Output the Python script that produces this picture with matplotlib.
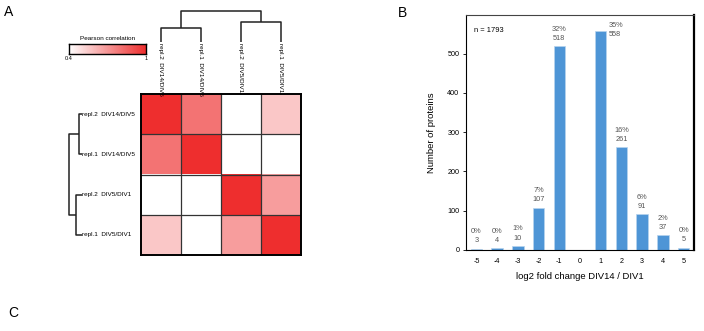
import numpy as np
import matplotlib
matplotlib.use("Agg")
import matplotlib.pyplot as plt
from matplotlib.colors import LinearSegmentedColormap
from matplotlib.transforms import blended_transform_factory

plt.rcParams['font.family'] = ['Liberation Sans', 'DejaVu Sans']
plt.rcParams['axes.unicode_minus'] = False

# ---- data ----
samples = ["repl.2  DIV14/DIV5", "repl.1  DIV14/DIV5",
           "repl.2  DIV5/DIV1", "repl.1  DIV5/DIV1"]
corr = np.array([[1.00, 0.80, 0.40, 0.56],
                 [0.80, 1.00, 0.40, 0.40],
                 [0.40, 0.40, 1.00, 0.68],
                 [0.56, 0.40, 0.68, 1.00]])
# linkage: (left, right, height), new clusters numbered 4, 5, 6
col_links = [(0, 1, 0.25), (2, 3, 0.355), (4, 5, 0.55)]
row_links = [(0, 1, 0.13), (2, 3, 0.25), (4, 5, 0.55)]

fold_change = [-5, -4, -3, -2, -1, 0, 1, 2, 3, 4, 5]
counts = [3, 4, 10, 107, 518, 0, 558, 261, 91, 37, 5]
percents = ["0%", "0%", "1%", "7%", "32%", "", "35%", "16%", "6%", "2%", "0%"]
n_total = 1793

W, H = 704, 331
fig = plt.figure(figsize=(W / 100, H / 100), dpi=100)


def px(x0, y0, x1, y1):
    return [x0 / W, 1 - y1 / H, (x1 - x0) / W, (y1 - y0) / H]


red = "#EE2E2E"
cmap = LinearSegmentedColormap.from_list("wr", ["white", red])


def draw_dendro(ax, links, n, orient):
    pos = {i: i + 0.5 for i in range(n)}
    hgt = {i: 0.0 for i in range(n)}
    for k, (a, b, h) in enumerate(links):
        xs = [pos[a], pos[a], pos[b], pos[b]]
        ys = [hgt[a], h, h, hgt[b]]
        if orient == "top":
            ax.plot(xs, ys, color="#222222", lw=1.1, clip_on=False,
                    solid_capstyle="butt")
        else:
            ax.plot(ys, xs, color="#222222", lw=1.1, clip_on=False,
                    solid_capstyle="butt")
        pos[n + k] = (pos[a] + pos[b]) / 2
        hgt[n + k] = h
    ax.axis("off")


# ---- panel A: heatmap ----
ax_h = fig.add_axes(px(141, 94, 301, 255))
ax_h.imshow(corr, cmap=cmap, vmin=0.4, vmax=1, aspect="auto",
            extent=(0, 4, 4, 0), interpolation="nearest")
for k in range(1, 4):
    ax_h.axhline(k, color="#333333", lw=0.9)
    ax_h.axvline(k, color="#333333", lw=0.9)
for s in ax_h.spines.values():
    s.set_linewidth(1.4)
ax_h.set_xticks([])
ax_h.set_yticks([])

ax_top = fig.add_axes(px(141, 11, 301, 42))
ax_top.set_xlim(0, 4)
ax_top.set_ylim(0, 0.55)
draw_dendro(ax_top, col_links, 4, "top")

ax_left = fig.add_axes(px(69, 94, 82, 255))
ax_left.set_ylim(4, 0)
ax_left.set_xlim(0.55, 0)
draw_dendro(ax_left, row_links, 4, "left")

tr_top = blended_transform_factory(ax_h.transData, fig.transFigure)
for j, name in enumerate(samples):
    ax_h.text(j + 0.5, 1 - 43 / H, name, transform=tr_top, rotation=270,
              ha="center", va="top", fontsize=4.6)
tr_left = blended_transform_factory(fig.transFigure, ax_h.transData)
for i, name in enumerate(samples):
    ax_h.text(82.5 / W, i + 0.5, name, transform=tr_left,
              ha="left", va="center", fontsize=4.6)

# colour key
ax_cb = fig.add_axes(px(69, 44, 146, 54))
grad = np.linspace(0.4, 1, 256).reshape(1, -1)
ax_cb.imshow(grad, cmap=cmap, vmin=0.4, vmax=1, aspect="auto",
             extent=(0.4, 1, 0, 1))
ax_cb.set_xticks([])
ax_cb.set_yticks([])
for s in ax_cb.spines.values():
    s.set_linewidth(1.0)
ax_cb.text(0.5, 1.35, "Pearson correlation", transform=ax_cb.transAxes,
           ha="center", va="bottom", fontsize=4.6)
ax_cb.text(0.0, -0.25, "0.4", transform=ax_cb.transAxes,
           ha="center", va="top", fontsize=4)
ax_cb.text(1.0, -0.25, "1", transform=ax_cb.transAxes,
           ha="center", va="top", fontsize=4)

# ---- panel B: histogram ----
ax_b = fig.add_axes(px(466, 15, 694, 250))
bars = ax_b.bar(fold_change, counts, width=0.55, color="#4E95D6",
                edgecolor="#B7D4EE", linewidth=0.5)
ax_b.set_xlim(-5.5, 5.5)
ax_b.set_ylim(0, 598)
ax_b.set_xticks(fold_change)
ax_b.set_yticks([0, 100, 200, 300, 400, 500])
ax_b.tick_params(axis="x", length=0, labelsize=5.2, pad=6)
ax_b.tick_params(axis="y", length=2.2, width=0.6, labelsize=5.2, pad=2.5)
ax_b.spines["top"].set_linewidth(0.8)
ax_b.spines["top"].set_color("#444444")
ax_b.spines["right"].set_linewidth(1.6)
ax_b.spines["left"].set_linewidth(0.8)
ax_b.spines["bottom"].set_linewidth(0.8)
ax_b.set_xlabel("log2 fold change DIV14 / DIV1", fontsize=6.8, labelpad=5)
ax_b.set_ylabel("Number of proteins", fontsize=6.8, labelpad=8)
ax_b.text(0.035, 0.95, f"n = {n_total}", transform=ax_b.transAxes,
          ha="left", va="top", fontsize=5.4)

lab_col = "#555555"
for x, c, p in zip(fold_change, counts, percents):
    if not p:
        continue
    if c > 540:
        # no room above: put labels beside the bar
        ax_b.annotate(p, (x + 0.3, c), xytext=(1.5, 4), textcoords="offset points",
                      ha="left", va="center", fontsize=5.3, color=lab_col)
        ax_b.annotate(str(c), (x + 0.3, c), xytext=(1.5, -3), textcoords="offset points",
                      ha="left", va="center", fontsize=5.3, color=lab_col)
    else:
        ax_b.annotate(str(c), (x, c), xytext=(0, 5.8), textcoords="offset points",
                      ha="center", va="center", fontsize=5.3, color=lab_col)
        ax_b.annotate(p, (x, c), xytext=(0, 12.4), textcoords="offset points",
                      ha="center", va="center", fontsize=5.3, color=lab_col)

# panel letters
fig.text(9 / W, 1 - 12.5 / H, "A", ha="center", va="center", fontsize=10)
fig.text(403 / W, 1 - 13 / H, "B", ha="center", va="center", fontsize=10)
fig.text(13 / W, 1 - 313 / H, "C", ha="center", va="center", fontsize=10)

fig.savefig("out.png", dpi=100)
